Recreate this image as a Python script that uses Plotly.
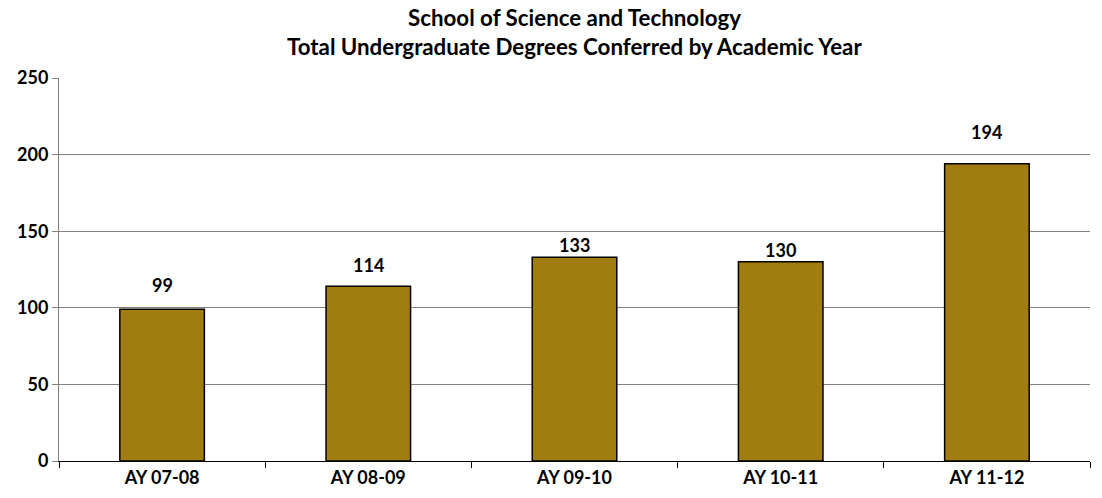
import plotly.graph_objects as go

years = ['AY 07-08', 'AY 08-09', 'AY 09-10', 'AY 10-11', 'AY 11-12']
degrees = [99, 114, 133, 130, 194]

title_lines = ['School of Science and Technology',
               'Total Undergraduate Degrees Conferred by Academic Year']

font_family = 'Lato, Open Sans, sans-serif'

# the original had its labels nudged by hand to dodge gridlines (pixels above bar top)
label_lift = [24, 21, 12, 12, 32]

fig = go.Figure()

fig.add_trace(
    go.Bar(
        x=years,
        y=degrees,
        marker=dict(color='#A17D10', line=dict(color='black', width=1.5)),
        width=0.41,
        hoverinfo='x+y',
    )
)

# value labels above each bar
for yr, val, lift in zip(years, degrees, label_lift):
    fig.add_annotation(
        x=yr, y=val,
        text=f'<b>{val}</b>',
        showarrow=False,
        yanchor='middle',
        yshift=lift,
        font=dict(family=font_family, size=18, color='black'),
    )

# two-line title, done as annotations so it doesn't get clipped
for line, ypos in zip(title_lines, [1.157, 1.081]):
    fig.add_annotation(
        x=0.5, y=ypos,
        xref='paper', yref='paper',
        text=f'<b>{line}</b>',
        showarrow=False,
        yanchor='middle',
        font=dict(family=font_family, size=22.3, color='black'),
    )

fig.update_layout(
    width=1102,
    height=498,
    margin=dict(l=59, r=12, t=78, b=37, autoexpand=False),
    plot_bgcolor='white',
    paper_bgcolor='white',
    showlegend=False,
    font=dict(family=font_family, color='black'),
)

fig.update_yaxes(
    range=[0, 250],
    dtick=50,
    automargin=False,
    showgrid=True,
    gridcolor='#808080',
    gridwidth=1,
    showline=True,
    linecolor='#808080',
    ticks='outside',
    ticklen=6,
    tickcolor='#808080',
    tickfont=dict(family=font_family, size=18, color='black'),
    tickprefix='<b>',
    ticksuffix='</b>',
    zeroline=False,
)

fig.update_xaxes(
    automargin=False,
    showline=True,
    linecolor='black',
    linewidth=1,
    ticks='outside',
    tickson='boundaries',
    ticklen=6,
    tickcolor='black',
    showgrid=False,
    tickfont=dict(family=font_family, size=18, color='black'),
    tickprefix='<b>',
    ticksuffix='</b>',
)

# drop the default 8px body margin so the figure fills the window exactly
fig.write_html('out.html', config={'displayModeBar': False},
               post_script="document.body.style.margin='0';")
